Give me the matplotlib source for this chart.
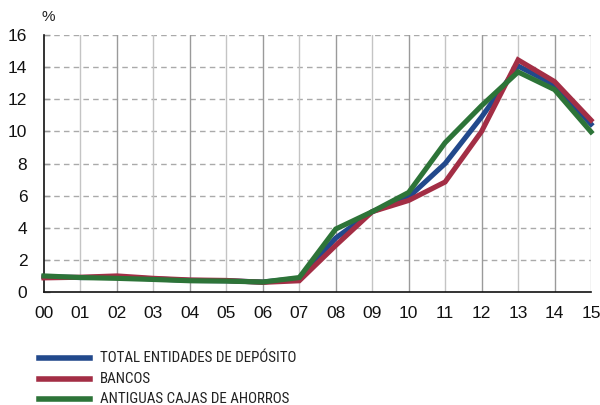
import matplotlib
matplotlib.use("Agg")
import matplotlib.pyplot as plt
from matplotlib import font_manager

years = ["00","01","02","03","04","05","06","07","08","09","10","11","12","13","14","15"]
total = [0.95, 0.9, 0.92, 0.82, 0.72, 0.7, 0.62, 0.85, 3.36, 5.0, 5.9, 8.0, 10.9, 14.07, 12.9, 10.45]
bancos = [0.88, 0.92, 1.0, 0.85, 0.75, 0.72, 0.6, 0.7, 2.9, 5.0, 5.7, 6.85, 10.0, 14.45, 13.1, 10.7]
cajas = [1.0, 0.9, 0.85, 0.78, 0.7, 0.68, 0.62, 0.9, 3.92, 5.0, 6.2, 9.3, 11.6, 13.7, 12.6, 9.97]
labels = ["TOTAL ENTIDADES DE DEPÓSITO", "BANCOS", "ANTIGUAS CAJAS DE AHORROS"]
colors = ["#22498c", "#a32e45", "#2d7438"]

names = {f.name for f in font_manager.fontManager.ttflist}
base = ["Liberation Sans", "DejaVu Sans"]
narrow = [n for n in ["Roboto Condensed", "PT Sans Narrow", "Archivo Narrow"] if n in names][:1] + base
plt.rcParams["font.family"] = base

fig = plt.figure(figsize=(6, 4.05), dpi=100)
ax = fig.add_axes([44/600, 1-292/405, (591-44)/600, (292-35)/405])

x = list(range(len(years)))
for vals, c in zip([total, bancos, cajas], colors):
    ax.plot(x, vals, color=c, lw=3.7, solid_joinstyle="miter", zorder=3, clip_on=False)

ax.set_xlim(0, len(years)-1)
ax.set_ylim(0, 16)
ax.set_yticks(range(0, 17, 2))
ax.set_xticks(x)
ax.set_xticklabels(years)
ax.tick_params(axis="both", labelsize=12.5, color="#999999", width=1, colors="#111111")
ax.tick_params(axis="x", length=0, pad=10)
ax.tick_params(axis="y", length=4, pad=12, direction="in")
for y in range(2, 17, 2):
    ax.axhline(y, color="#aaaaaa", lw=1, ls=(0, (4, 3)), zorder=1)
for xi in x[1:]:
    ax.axvline(xi, color="#c4c4c4" if xi % 2 else "#9a9a9a", lw=1, zorder=1)
for s in ["top", "right"]:
    ax.spines[s].set_visible(False)
ax.spines["left"].set_color("#111111")
ax.spines["bottom"].set_color("#111111")
ax.spines["left"].set_linewidth(1.2)
ax.spines["bottom"].set_linewidth(1.2)

fig.text(41/600, 1-17/405, "%", fontsize=11, va="center", ha="left", color="#222222")

ys = [358, 379, 399]
for lab, c, yy in zip(labels, colors, ys):
    fy = 1 - yy/405
    fig.add_artist(plt.Line2D([39/600, 90/600], [fy, fy], color=c, lw=4, transform=fig.transFigure))
    fig.text(100/600, fy, lab, fontsize=10.8, va="center", ha="left", color="#222222", family=narrow)

fig.savefig("out.png", dpi=100)
